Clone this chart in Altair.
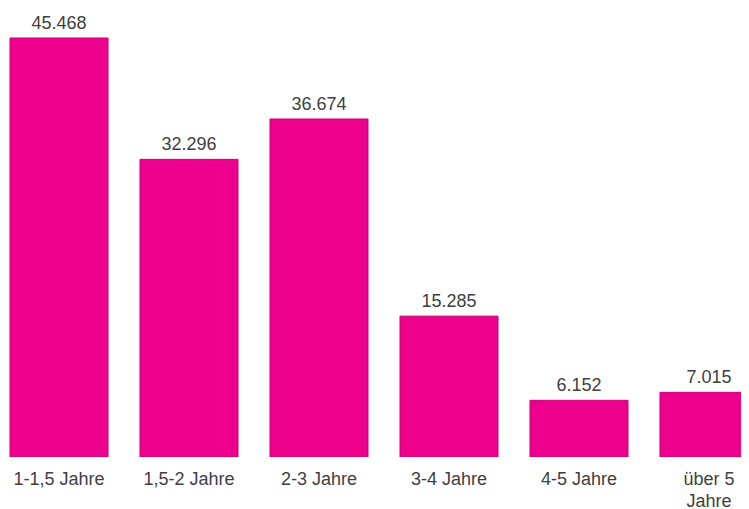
import altair as alt
import pandas as pd

categories = ["1-1,5 Jahre", "1,5-2 Jahre", "2-3 Jahre", "3-4 Jahre", "4-5 Jahre", "über 5 Jahre"]
values = [45468, 32296, 36674, 15285, 6152, 7015]

df = pd.DataFrame({"cat": categories, "val": values})
df["label"] = [f"{v:,}".replace(",", ".") for v in values]

FONT = "Liberation Sans"
TXT = "#404040"

x = alt.X(
    "cat:N",
    sort=categories,
    title=None,
    scale=alt.Scale(range=[2, 750], paddingInner=0.246, paddingOuter=0),
    axis=alt.Axis(
        labelAngle=0,
        domain=False,
        ticks=False,
        grid=False,
        labelFont=FONT,
        labelFontSize=18,
        labelColor=TXT,
        labelPadding=13,
        labelLineHeight=22,
        labelBaseline="top",
        labelOverlap=False,
        labelBound=False,
        labelLimit=0,
        labelExpr="datum.label == 'über 5 Jahre' ? ['über 5', 'Jahre'] : datum.label",
    ),
)
y = alt.Y(
    "val:Q",
    title=None,
    scale=alt.Scale(domain=[0, 48720], nice=False, zero=True),
    axis=None,
)

base = alt.Chart(df).encode(x=x, y=y)

bars = base.mark_bar(color="#EC008C", stroke="#CC0075", strokeWidth=1, clip=True)
labels = base.mark_text(
    baseline="alphabetic", dy=-9, font=FONT, fontSize=18, color=TXT
).encode(text="label:N")

chart = (
    (bars + labels)
    .properties(
        width=733,
        height=449,
        padding={"left": 0, "top": 0, "right": 0, "bottom": 52},
        autosize=alt.AutoSizeParams(type="none"),
        background="white",
    )
    .configure_view(strokeWidth=0)
)

chart.save("out.html", embed_options={"renderer": "svg", "actions": False})
